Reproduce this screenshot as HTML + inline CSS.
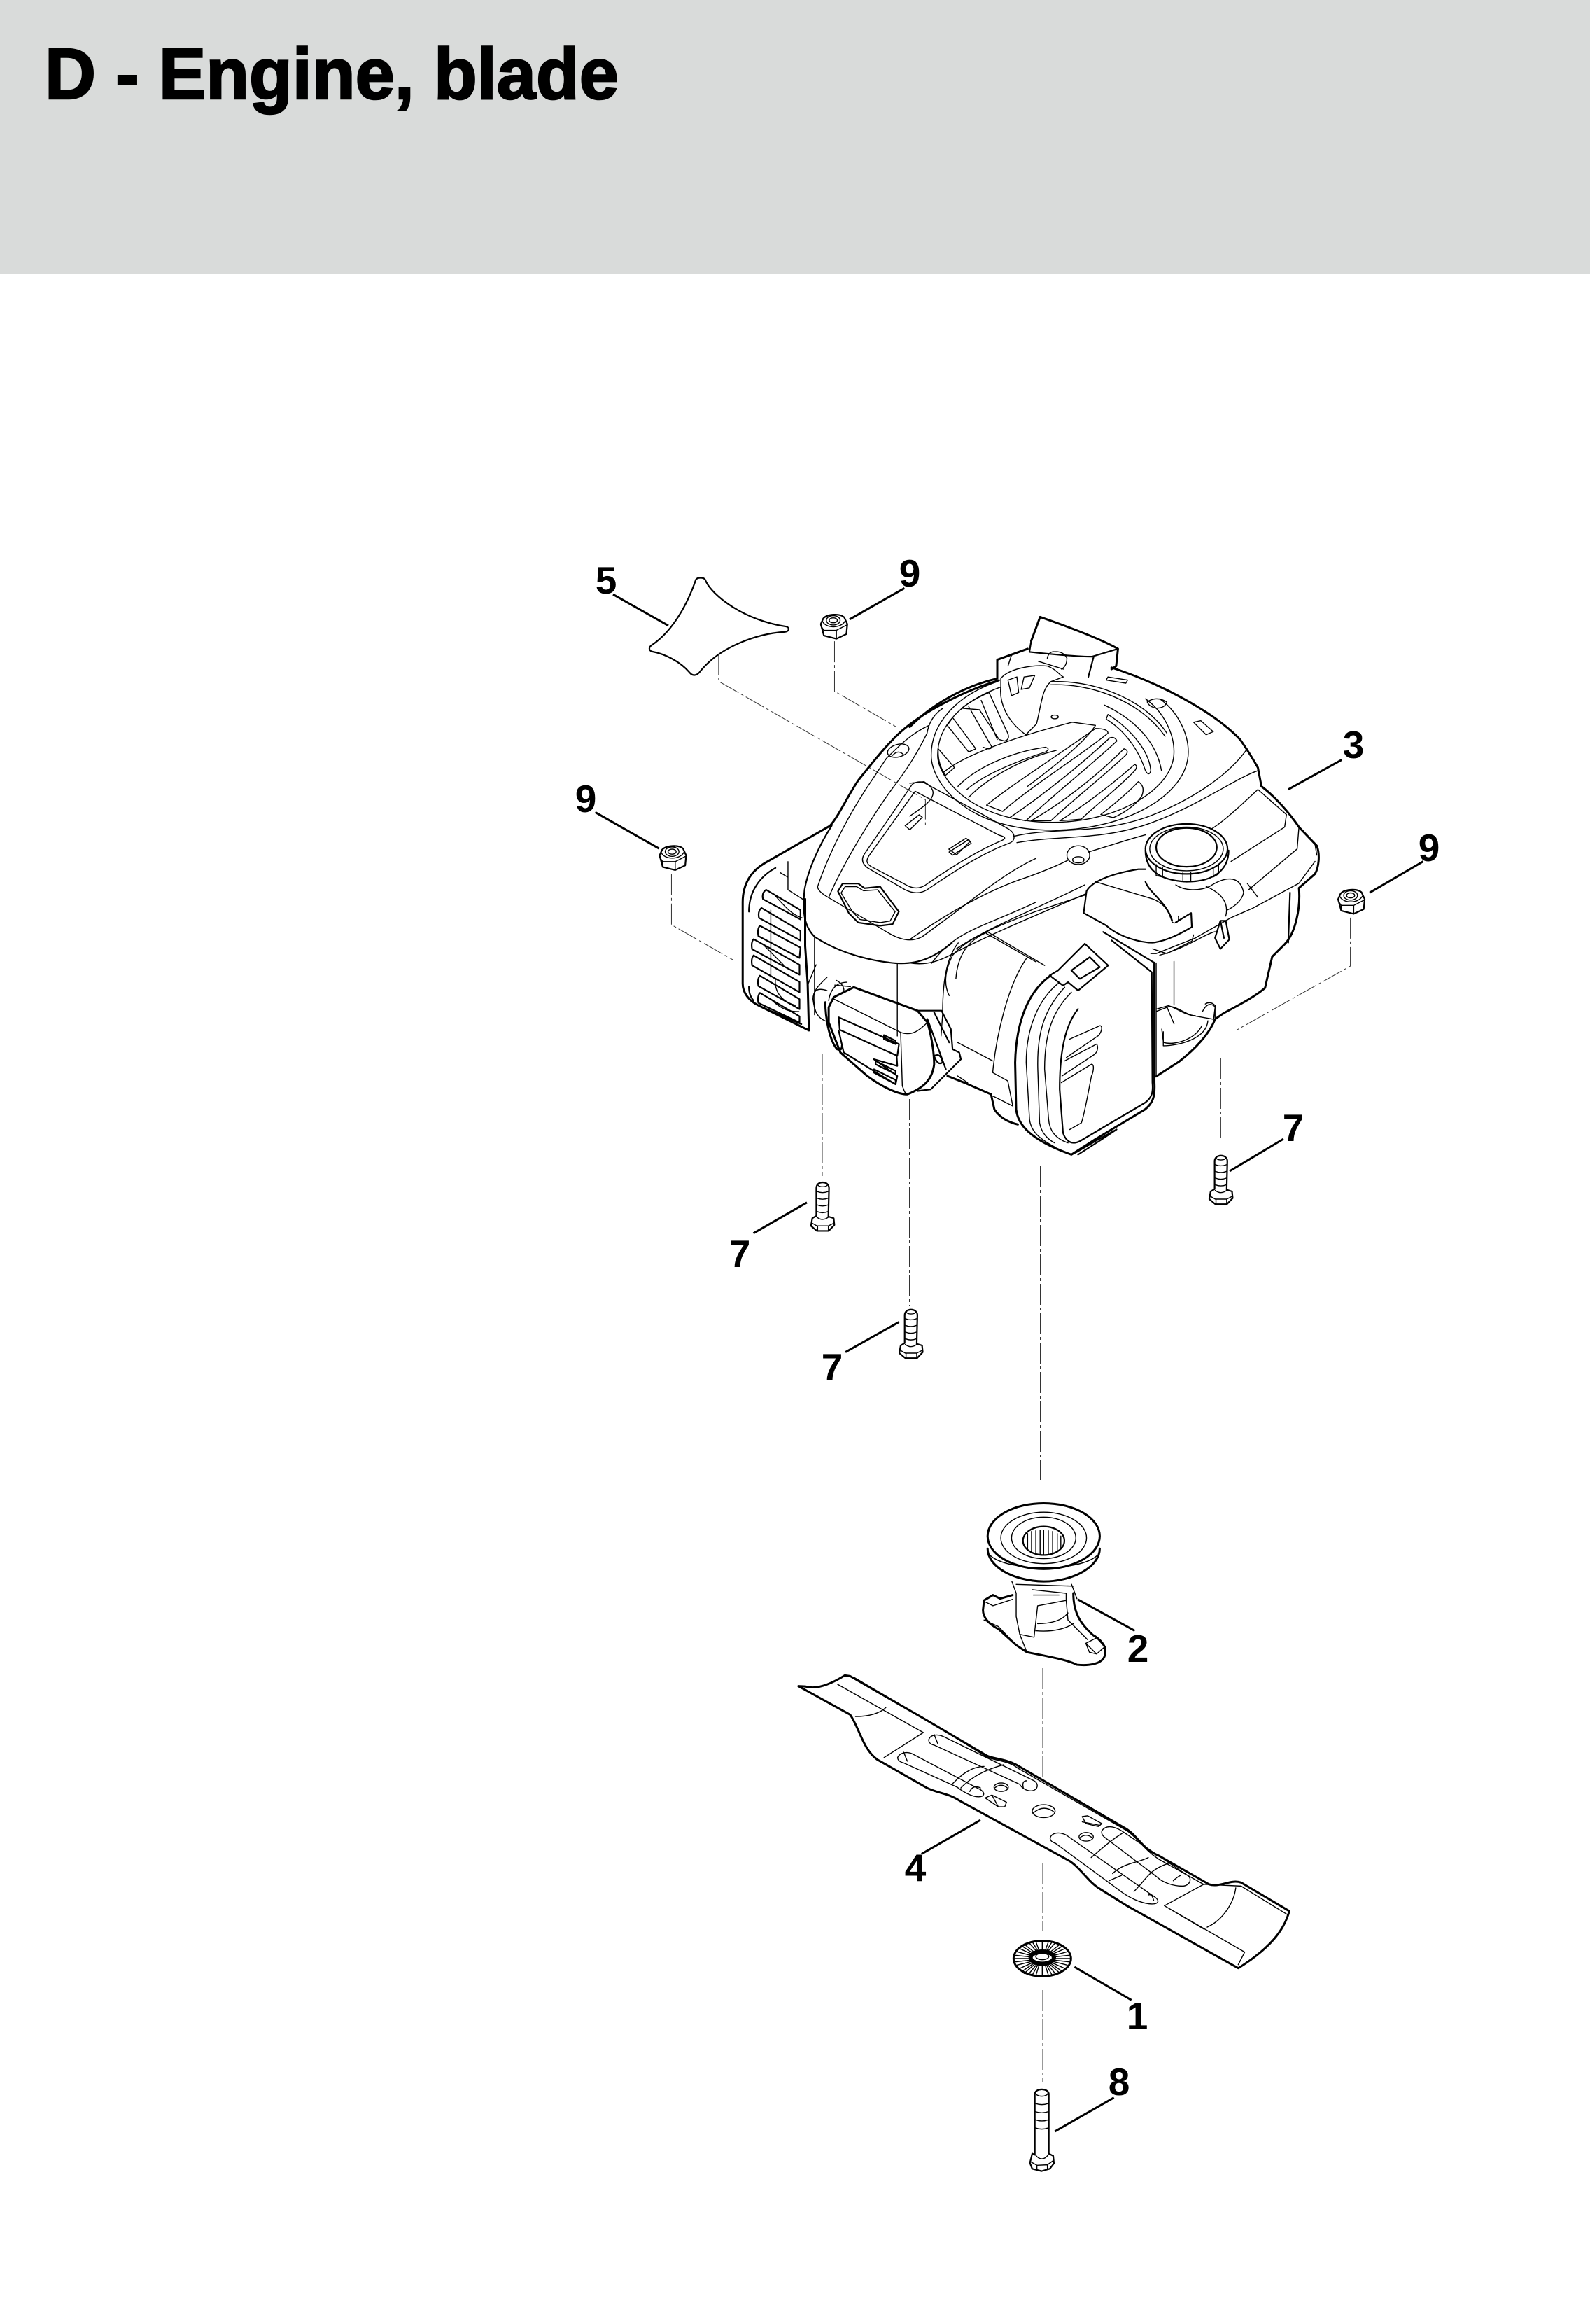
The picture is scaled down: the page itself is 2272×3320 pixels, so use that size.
<!DOCTYPE html>
<html><head><meta charset="utf-8"><style>
html,body{margin:0;padding:0;background:#fff}
svg{display:block}
svg *{vector-effect:non-scaling-stroke}
path,ellipse,line,circle{fill:none;stroke:#000;stroke-linejoin:round;stroke-linecap:round}
.k{stroke-width:3}.m{stroke-width:2.2}.t{stroke-width:1.4}
.l{stroke-width:3;stroke-linecap:butt}
.d{stroke-width:1;stroke:#333;stroke-dasharray:30 4 4 4;stroke-linecap:butt}
.w{fill:#fff}
text.n{font:bold 55px "Liberation Sans",sans-serif;text-anchor:middle;fill:#000}
</style></head><body>
<svg xmlns="http://www.w3.org/2000/svg" width="2272" height="3320" viewBox="0 0 2272 3320">
<rect width="2272" height="392" fill="#d9dbda"/>
<text x="64" y="141" font-family="'Liberation Sans',sans-serif" font-weight="bold" font-size="103" textLength="820" lengthAdjust="spacingAndGlyphs" fill="#000" stroke="#000" stroke-width="2.5">D - Engine, blade</text>

<!-- chain lines -->
<g>
<path class="d" d="M1175 1506V1680M1299.5 1570V1865M1486.5 1666V2114M1490 2383V2539M1490 2661V2758M1490 2843V2975M1744.4 1512V1630"/>
</g>

<!-- zone 2 : upper left -->
<g transform="translate(780 780) scale(.4464)">
<path class="m" d="M480 108C485 100 505 100 510 108C530 160 640 240 770 258C782 262 778 274 765 275C680 280 560 320 495 400C485 415 470 418 460 405C430 370 380 345 340 338C330 335 328 325 338 318C410 270 455 180 480 108Z"/>
<path class="l" d="M215 155L392 255M972 235L1148 135M158 852L362 968"/>
<path class="d" d="M553 345V433L1215 812V900M924 305V465L1120 578M402 1050V1212L600 1325"/>

<!-- shroud outline -->
<path class="k" d="M1450 430C1350 460 1200 530 1120 610C1080 650 1040 700 1000 750C960 810 940 860 910 895L700 1015C650 1045 630 1090 630 1140L630 1400C630 1430 650 1455 680 1470L838 1548"/>
<path class="k" d="M830 1130L830 1280L838 1400L842 1550"/>
<path class="m" d="M735 1030C680 1060 650 1110 650 1170M650 1410C650 1425 652 1440 665 1455M680 1470L818 1530"/>
<path class="t" d="M775 1010L775 1100L830 1135M750 1045L775 1060"/>
<path class="m" d="M705 1100L815 1165L815 1195L695 1130Q690 1110 705 1100ZM690 1158L815 1232L815 1262L682 1190Q678 1168 690 1158ZM685 1215L815 1285L812 1318L680 1248Q676 1225 685 1215ZM665 1258L812 1340L812 1372L660 1290Q656 1268 665 1258ZM665 1310L812 1395L812 1428L660 1342Q656 1320 665 1310ZM685 1375L812 1450L812 1482L680 1408Q676 1385 685 1375ZM685 1430L812 1505L812 1525L680 1462Q676 1440 685 1430Z"/>
<path class="t" d="M720 1165L720 1380M735 1120C770 1160 790 1180 820 1190M695 1275L760 1340M720 1450C760 1490 790 1490 810 1490M735 1385C730 1430 760 1460 800 1470"/>

<!-- front shroud -->
<path class="m" d="M915 895C880 950 840 1030 828 1100C820 1180 830 1220 860 1250C950 1310 1060 1330 1120 1335C1200 1340 1250 1310 1300 1270"/>
<path class="t" d="M870 1090C900 1000 960 870 1050 740L1090 680C1130 640 1170 600 1225 575M870 1090Q870 1105 905 1125L1100 1240Q1160 1275 1205 1250L1300 1180C1380 1120 1480 1040 1568 1000"/>
<path class="t" d="M905 1125C950 1020 1040 870 1110 775C1160 710 1190 660 1220 600C1225 570 1240 540 1270 520"/>
<path class="t" d="M1168 770C1175 755 1200 750 1215 760L1400 860L1480 905C1505 920 1505 945 1480 952C1380 990 1280 1060 1220 1100C1195 1115 1170 1110 1150 1100L1030 1030C1010 1015 1010 1000 1020 985Z"/>
<path class="t" d="M1182 785L1450 925C1470 930 1475 935 1460 942C1370 980 1280 1040 1215 1085C1195 1098 1175 1095 1160 1088L1040 1025C1025 1015 1025 1005 1035 990Z"/>
<path class="t" d="M1150 895L1195 860L1205 868L1165 908ZM1290 970L1345 935L1358 945L1315 988Z"/>
<path class="m" d="M935 1105L950 1080L1000 1080L1020 1095L1070 1090L1130 1170L1110 1210L1070 1215L1000 1205L970 1175Z"/>
<path class="t" d="M945 1110L958 1090L995 1090L1017 1103L1062 1100L1118 1170L1102 1200L1070 1205L1005 1195L980 1168Z"/>
<ellipse class="t" cx="1128" cy="655" rx="35" ry="20" transform="rotate(-15 1128 655)"/>
<path class="t" d="M1110 670Q1128 650 1145 668"/>
<path class="t" d="M1125 1335V1568M1235 1335C1310 1230 1400 1220 1568 1140M1320 1270C1280 1320 1270 1400 1270 1500L1265 1568M1410 1240L1568 1330M860 1250L860 1500M865 1340L840 1400"/>
<path class="t" d="M900 1380C880 1400 855 1420 855 1450C860 1490 870 1510 895 1520M930 1390C950 1400 960 1420 950 1430M925 1405L975 1410"/>
</g>

<!-- zone 3 : upper right (anisotropic crop) -->
<g transform="translate(1300 860) scale(.5102 .4464)">
<path class="l" d="M1060 600L1210 505M1288 930L1438 830"/>
<path class="d" d="M1234 1010V1165L915 1370"/>
<path class="k" d="M0 400C60 330 150 270 245 245L245 185L330 150"/>
<path class="k" d="M565 210C700 260 850 350 925 440C950 480 965 510 975 530L985 590C1020 620 1060 670 1090 720L1140 780C1150 810 1145 850 1135 870L1090 915C1095 980 1080 1060 1050 1095L1015 1135L995 1235C970 1260 930 1285 880 1315L855 1335C840 1380 800 1430 755 1470L690 1518"/>
<!-- handle -->
<path class="k" d="M340 125L365 48C420 70 530 115 583 150L578 205L565 215"/>
<path class="m" d="M340 125L335 160C380 165 460 175 510 175L583 150M515 175L500 240"/>
<path class="t" d="M245 185L285 170L275 205M360 190L430 215M400 160Q430 155 440 180Q440 205 425 215M385 180Q390 155 410 160"/>
<path class="t" d="M255 245C275 215 340 200 385 205C410 215 420 235 430 240L395 255C370 280 370 320 355 390L325 425C270 380 250 320 255 270Z"/>
<path class="t" d="M275 250L300 240L305 290L285 300ZM320 240L350 235L335 275L312 280Z"/>
<path class="t" d="M400 255C500 250 650 300 720 420M395 265C500 260 640 310 715 430M555 240L610 250L605 260L550 250ZM665 320Q690 300 720 320Q715 340 690 340Q670 335 665 320ZM795 385L815 380L850 415L830 425Z"/>
<ellipse class="t" cx="406" cy="368" rx="10" ry="6"/>
<!-- ring -->
<path class="t" d="M245 255C130 300 60 390 60 490C60 580 160 730 400 730C600 730 780 620 780 480C780 420 750 350 700 310"/>
<path class="t" d="M255 272C140 320 78 400 78 490C78 560 170 705 400 705C580 705 740 600 740 480C740 420 710 350 660 310"/>
<path class="t" d="M0 685C60 640 90 610 40 575L0 580M290 750C400 720 520 745 660 690C780 640 890 560 945 470M300 770C420 745 540 765 680 705C810 650 920 560 975 540"/>
<path class="t" d="M0 1080C100 1000 220 920 330 880C390 855 420 840 445 825M500 800C560 780 610 760 660 745"/>
<path class="t" d="M0 1155C50 1165 90 1145 130 1120C240 1055 380 990 490 935"/>
<path class="t" d="M130 1110C220 1040 350 985 490 905"/>
<ellipse class="t" cx="472" cy="810" rx="32" ry="30"/>
<ellipse class="t" cx="472" cy="825" rx="16" ry="10"/>
<path class="t" d="M110 800L165 760L172 772L120 810Z"/>
<!-- fins -->
<path class="t" d="M80 470L125 530L100 555C85 530 78 500 80 470ZM120 370L185 470L165 480L105 395ZM145 340C175 315 200 300 222 290L270 410Q285 440 265 445L250 440L195 345ZM165 335L225 455Q235 470 220 470L205 465M200 315L245 440"/>
<path class="t" d="M95 545C150 490 300 430 455 385L520 395C490 450 400 530 330 590"/>
<path class="t" d="M135 590C180 535 280 480 380 465Q395 470 380 480C300 510 210 550 160 600M165 625C220 560 320 500 410 475M215 650C280 590 390 510 520 405Q555 405 555 420C480 490 340 590 260 670L215 650M280 690C370 620 470 530 560 435Q575 430 580 445C500 530 400 620 325 700ZM340 700C430 640 520 560 600 470Q615 475 605 490C530 570 450 640 395 700ZM420 700C490 650 560 590 630 520Q640 525 630 540C580 600 520 650 480 695ZM535 680C580 640 620 600 640 575Q660 590 650 620C640 640 610 670 570 690Z"/>
<path class="t" d="M555 360C610 400 670 470 675 540Q670 560 660 540C640 470 600 410 550 375ZM545 330C620 370 690 440 705 540"/>
<!-- tank -->
<path class="t" d="M975 600C900 680 860 720 830 735M975 600L1055 680L1050 720L900 830M1090 720L1085 790L950 920M945 900L975 945M1135 830L1090 900L960 980L900 1010L800 1075L690 1125L675 1125M1095 725L1135 775L1140 810"/>
<path class="m" d="M1065 930L1060 1090"/>
<!-- cap -->
<path class="m w" d="M660 795C660 850 690 890 775 895C860 895 893 850 893 795"/>
<ellipse class="m w" cx="775" cy="790" rx="115" ry="80"/>
<ellipse class="t" cx="775" cy="790" rx="103" ry="70"/>
<ellipse class="m" cx="775" cy="785" rx="85" ry="62"/>
<path class="t" d="M690 840L690 875L708 880L708 850M765 865L765 895L787 895L787 865M850 850L850 880L865 870L865 840"/>
<!-- oil housing -->
<path class="m" d="M495 925C510 895 560 870 640 855L660 855M495 925L487 995L550 1035C590 1075 650 1090 680 1090C720 1085 760 1060 790 1040L788 995L745 1025M660 895C670 930 720 960 735 1020"/>
<path class="t" d="M520 895L680 950C715 965 725 990 735 1025C745 1030 755 1025 752 1005M745 905C770 925 810 925 840 910C880 880 925 870 935 930C930 960 900 980 890 985M830 910C870 930 895 960 885 1005"/>
<path class="m" d="M855 1075L870 1020L885 1020L895 1080L870 1110ZM870 1020L880 1075"/>
<path class="t" d="M680 1110L720 1125L790 1085L795 1065M700 1130C770 1110 830 1060 855 1055"/>
<path class="t" d="M690 1155V1518M740 1150V1290M690 1310L725 1295C745 1290 770 1320 800 1325L850 1335M820 1310Q835 1275 855 1295L855 1330M710 1375V1420C750 1420 830 1400 835 1340M720 1295L740 1350"/>
</g>

<!-- zone 4 : lower engine -->
<g transform="translate(1000 1250) scale(.4783)">
<!-- air cover -->
<path class="k" d="M1048 300C985 345 945 430 942 560L945 700C950 745 985 790 1110 835L1180 790L1330 700C1355 680 1360 660 1358 620L1358 262"/>
<path class="t" d="M1075 320C1010 370 975 460 975 560L985 730C990 770 1020 790 1060 812M1090 335C1030 400 1005 470 1010 590L1015 740C1020 770 1040 790 1060 800M1110 350C1050 410 1030 480 1030 580L1042 730C1045 770 1070 790 1100 800"/>
<path class="m" d="M1130 400C1090 450 1075 530 1075 640L1085 770C1095 800 1115 805 1135 795L1330 680C1350 665 1355 650 1352 620L1350 290L1230 195"/>
<path class="m" d="M1205 170L1358 262"/>
<path class="m" d="M1045 300L1070 285L1150 205L1220 270L1130 345L1100 320L1085 330L1045 300M1110 285L1165 245L1195 275L1135 310Z"/>
<path class="t" d="M1105 490L1195 450C1205 450 1200 470 1190 480L1095 545M1090 555L1185 505C1190 510 1190 525 1180 535L1082 600M1080 620L1170 565C1180 565 1175 590 1170 600C1160 650 1150 710 1140 740L1105 760"/>
<path class="m" d="M1110 835L1130 825L1190 790L1245 760L1200 790L1130 835"/>
<path class="t" d="M745 360C730 330 730 290 755 240C790 200 840 170 1000 110L1150 60M1030 270L860 170C800 195 770 240 765 310M975 250C920 330 885 480 875 590L920 615L935 690M770 500L875 555"/>
<!-- muffler -->
<path class="k" d="M385 395L400 365L460 335L650 405L680 440C695 490 700 540 700 565C695 610 670 635 620 655C590 655 540 630 500 600L420 530L385 440Z"/>
<path class="t" d="M400 370L600 470C630 480 650 470 680 440M600 470L605 630C610 640 610 650 620 655"/>
<path class="m" d="M415 425L595 505L590 540L418 462ZM415 465L430 530L585 625L590 600L520 550L590 570L588 540"/>
<path class="m" d="M550 478L585 495L585 505L550 490ZM525 555L585 585L585 595L525 565ZM520 580L585 612L585 625L520 590Z"/>
<path class="m" d="M650 405L722 405L750 460L755 520L775 530L780 550L730 600L690 640L650 645M680 430L735 580M700 410L745 500M700 540Q720 530 725 560Q710 570 700 540"/>
<path class="k" d="M375 380C375 420 385 490 410 520Q425 525 425 510M740 600L790 620L870 655L880 700C900 730 930 740 950 745"/>
<path class="t" d="M770 600L800 620M875 660L935 690"/>
<path class="t" d="M380 345C350 335 335 345 340 380L345 410M385 375C390 340 410 320 440 320"/>
<!-- right under -->
<path class="t" d="M1365 400L1400 390C1420 395 1450 420 1480 420M1380 460L1385 500C1420 510 1480 490 1500 450M1510 385Q1525 375 1540 390L1535 430"/>
</g>

<!-- bolts -->
<g transform="translate(1000 1250) scale(.4783)">
<g id="bolt">
<path class="m w" d="M348 935C348 912 386 912 386 935L384 1020L400 1025L402 1045L385 1063L350 1063L332 1048L336 1025L348 1018Z"/>
<ellipse class="t" cx="367" cy="925" rx="14" ry="6"/>
<path class="t" d="M350 945Q366 952 384 945M350 965Q366 972 384 965M350 985Q366 992 384 985M350 1005Q366 1012 384 1005M350 1022Q366 1035 384 1022M336 1040L350 1048L384 1048L400 1040M352 1048V1063M384 1048V1063"/>
</g>
<use href="#bolt" x="264" y="380"/>
<use href="#bolt" x="1190" y="-80"/>
<path class="l" d="M160 1070L320 978M435 1425L595 1335"/>
</g>
<path class="l" d="M1757 1673L1834 1627"/>

<!-- nuts -->
<g transform="translate(780 780) scale(.4464)">
<g id="nut">
<path class="m w" d="M880 250L888 232C900 218 940 215 955 228L965 250L962 282L930 297L890 287Z"/>
<ellipse class="t" cx="920" cy="238" rx="22" ry="15"/>
<ellipse class="t" cx="920" cy="238" rx="13" ry="8"/>
<path class="t" d="M880 255L890 270L930 270L965 252M890 270V287M930 270V297M885 240C895 265 945 265 958 240"/>
</g>
<use href="#nut" x="-516" y="740"/>
<use href="#nut" x="1656" y="880"/>
</g>

<!-- hub + blade + washer : zone 5 -->
<g transform="translate(1100 2100) scale(.5102)">
<path class="l" d="M862 362L1022 450M590 980L425 1075"/>
<ellipse class="k" cx="767" cy="185" rx="157" ry="92"/>
<path class="k" d="M610 220C610 270 680 310 767 312C850 312 924 270 924 220"/>
<path class="t" d="M618 240C670 285 865 285 916 240"/>
<ellipse class="t" cx="767" cy="190" rx="120" ry="72"/>
<ellipse class="t" cx="767" cy="190" rx="90" ry="58"/>
<ellipse class="m" cx="767" cy="198" rx="58" ry="40"/>
<path class="t" d="M722 178V222M733 172V230M745 170V235M757 168V238M767 168V238M780 170V238M792 172V235M805 178V230M815 185V220"/>
<path class="k" d="M850 345C850 400 870 430 905 462C920 470 930 480 938 495L938 520C930 545 890 548 860 545C830 530 770 520 720 510L690 490L640 445C610 430 597 410 597 392L600 365L625 350L645 360L680 350"/>
<path class="t" d="M678 312L690 345L690 410L700 460L740 468L750 380L830 365L835 420L890 475M735 335L830 345L830 365M738 350L810 350M690 320L850 325M845 320L860 360M750 430C790 430 820 420 835 400M745 450C800 455 835 440 850 430M885 485L915 470L938 495L915 515ZM885 485L895 510L915 515M605 370L625 380L680 362M600 420L640 438L690 490M700 460L720 510"/>

<!-- blade -->
<path class="k" d="M80 605L100 606C130 615 170 600 210 575L225 577L430 695L600 795C620 810 650 805 690 825L990 1000C1030 1020 1040 1060 1090 1080L1230 1160C1260 1170 1290 1145 1320 1155L1455 1235C1440 1290 1400 1340 1312 1395L1000 1220L920 1170C890 1150 870 1115 840 1095L530 925C500 905 470 905 440 890L300 810C260 780 250 720 225 685Z"/>
<path class="t" d="M190 600L430 735L320 805M240 690C280 690 310 680 325 665M235 580L440 700L610 805C640 815 670 815 695 835L1000 1010C1030 1030 1050 1065 1090 1090L1215 1160L1105 1220L1215 1285M1215 1160L1320 1165L1450 1245M1105 1220L1330 1350L1312 1385M1225 1280C1270 1260 1300 1210 1305 1170"/>
<path class="t" d="M445 755C450 740 470 738 490 748L740 870C755 880 750 895 735 898C720 900 705 890 700 880L460 770C450 768 445 762 445 755ZM358 805C365 790 385 788 400 795L590 895C605 905 600 915 585 915C565 915 540 900 525 888L375 820C365 818 358 812 358 805Z"/>
<path class="t" d="M460 740L470 765M375 790L385 815M510 880C530 860 560 830 600 830M535 890C565 860 600 840 655 825M560 900Q570 880 590 890M710 890Q705 870 720 870"/>
<ellipse class="t" cx="648" cy="888" rx="20" ry="12"/>
<path class="t" d="M630 890Q648 875 665 890"/>
<path class="t" d="M603 918L622 910L663 930L658 943L640 943ZM622 910L640 943"/>
<ellipse class="t" cx="767" cy="955" rx="32" ry="18"/>
<path class="t" d="M738 960Q767 935 797 958"/>
<path class="t" d="M875 970L890 968L930 990L920 998L885 990ZM875 985L925 995"/>
<ellipse class="t" cx="886" cy="1027" rx="20" ry="12"/>
<path class="t" d="M868 1030Q886 1015 903 1030"/>
<path class="t" d="M785 1030C790 1015 810 1012 830 1022L1070 1190C1095 1205 1090 1215 1070 1215C1050 1215 1020 1205 990 1185L800 1045C790 1042 785 1037 785 1030ZM930 1010C940 995 960 995 985 1010L1170 1135C1185 1145 1175 1165 1155 1165C1130 1165 1100 1155 1085 1140L940 1030C932 1025 928 1018 930 1010Z"/>
<path class="t" d="M900 1085C930 1060 950 1040 990 1015M960 1130C990 1100 1030 1100 1060 1085M1020 1180C1060 1140 1060 1120 1120 1100M950 1150L985 1135M1060 1190Q1070 1185 1075 1205M1130 1150Q1140 1140 1150 1135"/>
</g>

<!-- zone 6 -->
<g transform="translate(1350 2700) scale(.3333)">
<ellipse class="k" cx="418" cy="294" rx="123" ry="76"/>
<path class="t" d="M300 294H375M537 294H462M418 225V262M418 365V320M330 240L385 275M505 240L450 275M330 350L385 312M505 350L450 312M360 225L395 265M475 225L440 265M360 360L395 318M475 360L440 318M310 265L378 283M525 265L458 283M310 322L378 305M525 322L458 305M390 220L405 262M445 220L430 262M390 368L405 320M445 368L430 320M340 232L388 270M495 232L447 270M340 358L388 316M495 358L447 316M318 250L380 278M518 250L455 278M318 338L380 310M518 338L455 310M303 280L375 288M533 280L460 288M303 308L375 300M533 308L460 300M375 222L400 263M460 222L435 263M375 365L400 319M460 365L435 319"/>
<ellipse cx="418" cy="290" rx="50" ry="26" style="stroke-width:6"/>
<ellipse class="w" cx="418" cy="285" rx="28" ry="14" style="stroke-width:1.4"/>
<path class="l" d="M556 330L800 472M472 1035L725 890"/>
<!-- long bolt -->
<path class="m" d="M386 875C386 848 446 848 446 875L446 1130L465 1140L468 1172L450 1195L415 1205L375 1195L365 1170L375 1130L386 1135Z"/>
<ellipse class="t" cx="416" cy="870" rx="26" ry="14"/>
<path class="t" d="M388 915Q416 925 444 915M388 950Q416 960 444 950M388 985Q416 995 444 985M388 1020Q416 1030 444 1020M388 1135Q416 1170 444 1135M368 1165L395 1180L440 1178L465 1160M395 1180V1200M440 1178V1198"/>
</g>

<!-- labels -->
<text class="n" x="866" y="848">5</text>
<text class="n" x="1300" y="838">9</text>
<text class="n" x="837" y="1160">9</text>
<text class="n" x="1934" y="1083">3</text>
<text class="n" x="2042" y="1230">9</text>
<text class="n" x="1848" y="1630">7</text>
<text class="n" x="1057" y="1810">7</text>
<text class="n" x="1189" y="1972">7</text>
<text class="n" x="1626" y="2374">2</text>
<text class="n" x="1308" y="2687">4</text>
<text class="n" x="1625" y="2899">1</text>
<text class="n" x="1599" y="2993">8</text>
</svg>
</body></html>
